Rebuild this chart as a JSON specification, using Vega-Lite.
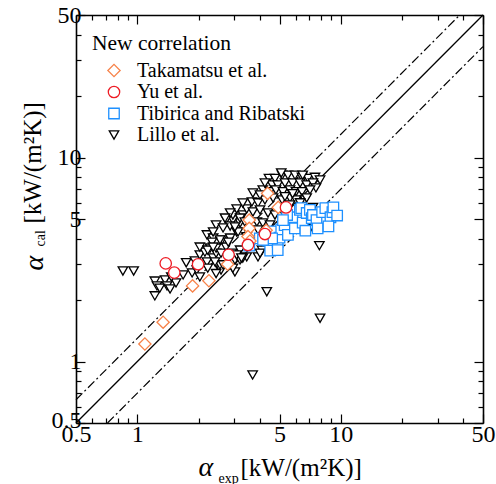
{
  "$schema": "https://vega.github.io/schema/vega-lite/v6.json",
  "width": 407,
  "height": 408,
  "autosize": {"type": "none"},
  "padding": {"left": 76, "top": 15, "right": 13, "bottom": 61},
  "background": "white",
  "config": {
    "view": {"stroke": null},
    "font": "Liberation Serif",
    "axis": {
      "domainColor": "black", "domainWidth": 1.6, "tickColor": "black", "tickWidth": 1.2,
      "labelFont": "Liberation Serif", "labelFontSize": 24, "labelColor": "black",
      "titleFont": "Liberation Serif", "titleColor": "black", "titleFontWeight": "normal",
      "grid": false, "labelOverlap": false, "labelFlush": false
    },
    "legend": {
      "titleFont": "Liberation Serif", "titleFontSize": 21.5, "titleFontWeight": "normal", "titleColor": "black",
      "labelFont": "Liberation Serif", "labelFontSize": 20, "labelColor": "black", "labelLimit": 400
    }
  },
  "datasets": {
    "eq": [{"exp": 0.5, "cal": 0.5}, {"exp": 50, "cal": 50}],
    "band": [
      {"id": "up", "exp": 0.5, "cal": 0.65}, {"id": "up", "exp": 38.46, "cal": 50},
      {"id": "lo", "exp": 0.714, "cal": 0.5}, {"id": "lo", "exp": 50, "cal": 35}
    ],
    "pts": [
      {"src": "Lillo et al.", "exp": 0.85, "cal": 2.78}, {"src": "Lillo et al.", "exp": 0.96, "cal": 2.78},
      {"src": "Lillo et al.", "exp": 1.22, "cal": 2.48}, {"src": "Lillo et al.", "exp": 1.25, "cal": 2.35},
      {"src": "Lillo et al.", "exp": 1.22, "cal": 2.1}, {"src": "Lillo et al.", "exp": 1.37, "cal": 2.51},
      {"src": "Lillo et al.", "exp": 1.4, "cal": 2.35}, {"src": "Lillo et al.", "exp": 1.45, "cal": 2.27},
      {"src": "Lillo et al.", "exp": 1.55, "cal": 2.43}, {"src": "Lillo et al.", "exp": 1.68, "cal": 2.66},
      {"src": "Lillo et al.", "exp": 1.74, "cal": 3.05}, {"src": "Lillo et al.", "exp": 1.86, "cal": 2.72},
      {"src": "Lillo et al.", "exp": 1.92, "cal": 3.11}, {"src": "Lillo et al.", "exp": 1.96, "cal": 2.81},
      {"src": "Lillo et al.", "exp": 2.03, "cal": 3.33}, {"src": "Lillo et al.", "exp": 2.03, "cal": 2.6},
      {"src": "Lillo et al.", "exp": 2.15, "cal": 3.44}, {"src": "Lillo et al.", "exp": 2.2, "cal": 3.08},
      {"src": "Lillo et al.", "exp": 2.22, "cal": 2.87}, {"src": "Lillo et al.", "exp": 2.28, "cal": 3.6},
      {"src": "Lillo et al.", "exp": 2.36, "cal": 3.22}, {"src": "Lillo et al.", "exp": 2.44, "cal": 3.4},
      {"src": "Lillo et al.", "exp": 2.47, "cal": 2.98}, {"src": "Lillo et al.", "exp": 2.58, "cal": 2.81},
      {"src": "Lillo et al.", "exp": 2.73, "cal": 3.64}, {"src": "Lillo et al.", "exp": 2.61, "cal": 3.95},
      {"src": "Lillo et al.", "exp": 2.86, "cal": 4.03}, {"src": "Lillo et al.", "exp": 2.92, "cal": 3.4},
      {"src": "Lillo et al.", "exp": 3.02, "cal": 3.15}, {"src": "Lillo et al.", "exp": 3.08, "cal": 4.32},
      {"src": "Lillo et al.", "exp": 3.2, "cal": 4.78}, {"src": "Lillo et al.", "exp": 2.95, "cal": 4.94},
      {"src": "Lillo et al.", "exp": 2.73, "cal": 4.94}, {"src": "Lillo et al.", "exp": 2.86, "cal": 4.62},
      {"src": "Lillo et al.", "exp": 3.3, "cal": 5.23}, {"src": "Lillo et al.", "exp": 3.45, "cal": 5.6},
      {"src": "Lillo et al.", "exp": 3.45, "cal": 4.09}, {"src": "Lillo et al.", "exp": 3.02, "cal": 2.75},
      {"src": "Lillo et al.", "exp": 2.55, "cal": 2.98}, {"src": "Lillo et al.", "exp": 2.95, "cal": 2.87},
      {"src": "Lillo et al.", "exp": 3.2, "cal": 3.15}, {"src": "Lillo et al.", "exp": 4.44, "cal": 7.9},
      {"src": "Lillo et al.", "exp": 4.75, "cal": 7.9}, {"src": "Lillo et al.", "exp": 5.15, "cal": 8.2},
      {"src": "Lillo et al.", "exp": 5.5, "cal": 8.2}, {"src": "Lillo et al.", "exp": 5.96, "cal": 8.2},
      {"src": "Lillo et al.", "exp": 6.45, "cal": 8.0}, {"src": "Lillo et al.", "exp": 6.9, "cal": 7.9},
      {"src": "Lillo et al.", "exp": 7.47, "cal": 8.0}, {"src": "Lillo et al.", "exp": 7.91, "cal": 7.76},
      {"src": "Lillo et al.", "exp": 4.6, "cal": 7.34}, {"src": "Lillo et al.", "exp": 4.9, "cal": 7.34},
      {"src": "Lillo et al.", "exp": 5.32, "cal": 7.5}, {"src": "Lillo et al.", "exp": 5.8, "cal": 7.5},
      {"src": "Lillo et al.", "exp": 6.31, "cal": 7.5}, {"src": "Lillo et al.", "exp": 6.8, "cal": 7.34},
      {"src": "Lillo et al.", "exp": 7.3, "cal": 7.5}, {"src": "Lillo et al.", "exp": 7.55, "cal": 7.1},
      {"src": "Lillo et al.", "exp": 4.14, "cal": 6.94}, {"src": "Lillo et al.", "exp": 4.49, "cal": 6.8},
      {"src": "Lillo et al.", "exp": 4.8, "cal": 6.94}, {"src": "Lillo et al.", "exp": 5.2, "cal": 6.8},
      {"src": "Lillo et al.", "exp": 5.63, "cal": 6.94}, {"src": "Lillo et al.", "exp": 6.03, "cal": 6.8},
      {"src": "Lillo et al.", "exp": 6.45, "cal": 6.8}, {"src": "Lillo et al.", "exp": 7.06, "cal": 6.94},
      {"src": "Lillo et al.", "exp": 3.66, "cal": 6.06}, {"src": "Lillo et al.", "exp": 3.92, "cal": 6.0},
      {"src": "Lillo et al.", "exp": 4.24, "cal": 6.2}, {"src": "Lillo et al.", "exp": 4.65, "cal": 6.34},
      {"src": "Lillo et al.", "exp": 5.15, "cal": 6.2}, {"src": "Lillo et al.", "exp": 5.63, "cal": 6.34},
      {"src": "Lillo et al.", "exp": 6.03, "cal": 6.2}, {"src": "Lillo et al.", "exp": 6.67, "cal": 6.2},
      {"src": "Lillo et al.", "exp": 3.7, "cal": 5.41}, {"src": "Lillo et al.", "exp": 4.01, "cal": 5.54},
      {"src": "Lillo et al.", "exp": 4.39, "cal": 5.35}, {"src": "Lillo et al.", "exp": 4.75, "cal": 5.23},
      {"src": "Lillo et al.", "exp": 5.2, "cal": 5.41}, {"src": "Lillo et al.", "exp": 2.95, "cal": 5.23},
      {"src": "Lillo et al.", "exp": 3.2, "cal": 5.05}, {"src": "Lillo et al.", "exp": 3.38, "cal": 4.83},
      {"src": "Lillo et al.", "exp": 3.87, "cal": 4.83}, {"src": "Lillo et al.", "exp": 4.14, "cal": 4.78},
      {"src": "Lillo et al.", "exp": 4.49, "cal": 4.67}, {"src": "Lillo et al.", "exp": 2.44, "cal": 4.67},
      {"src": "Lillo et al.", "exp": 2.64, "cal": 4.52}, {"src": "Lillo et al.", "exp": 3.13, "cal": 4.32},
      {"src": "Lillo et al.", "exp": 3.92, "cal": 4.42}, {"src": "Lillo et al.", "exp": 2.2, "cal": 4.18},
      {"src": "Lillo et al.", "exp": 2.36, "cal": 4.03}, {"src": "Lillo et al.", "exp": 2.55, "cal": 3.95},
      {"src": "Lillo et al.", "exp": 2.8, "cal": 3.85}, {"src": "Lillo et al.", "exp": 2.03, "cal": 3.64},
      {"src": "Lillo et al.", "exp": 2.22, "cal": 3.52}, {"src": "Lillo et al.", "exp": 2.44, "cal": 3.6},
      {"src": "Lillo et al.", "exp": 3.2, "cal": 3.52}, {"src": "Lillo et al.", "exp": 3.45, "cal": 3.26},
      {"src": "Lillo et al.", "exp": 3.92, "cal": 3.26}, {"src": "Lillo et al.", "exp": 4.1, "cal": 3.52},
      {"src": "Lillo et al.", "exp": 2.41, "cal": 3.08}, {"src": "Lillo et al.", "exp": 3.3, "cal": 3.22},
      {"src": "Lillo et al.", "exp": 3.7, "cal": 6.7}, {"src": "Lillo et al.", "exp": 4.01, "cal": 6.56},
      {"src": "Lillo et al.", "exp": 3.3, "cal": 5.99}, {"src": "Lillo et al.", "exp": 3.08, "cal": 5.6},
      {"src": "Lillo et al.", "exp": 2.86, "cal": 5.35}, {"src": "Lillo et al.", "exp": 2.7, "cal": 5.05},
      {"src": "Lillo et al.", "exp": 2.36, "cal": 4.32}, {"src": "Lillo et al.", "exp": 2.33, "cal": 3.85},
      {"src": "Lillo et al.", "exp": 3.02, "cal": 4.57}, {"src": "Lillo et al.", "exp": 4.24, "cal": 7.5},
      {"src": "Lillo et al.", "exp": 5.1, "cal": 8.4}, {"src": "Lillo et al.", "exp": 6.5, "cal": 8.2},
      {"src": "Lillo et al.", "exp": 5.8, "cal": 6.65}, {"src": "Lillo et al.", "exp": 5.32, "cal": 6.43},
      {"src": "Lillo et al.", "exp": 6.8, "cal": 6.34}, {"src": "Lillo et al.", "exp": 5.63, "cal": 5.86},
      {"src": "Lillo et al.", "exp": 6.31, "cal": 6.0}, {"src": "Lillo et al.", "exp": 7.3, "cal": 5.7},
      {"src": "Lillo et al.", "exp": 7.3, "cal": 4.5}, {"src": "Lillo et al.", "exp": 7.85, "cal": 3.7},
      {"src": "Lillo et al.", "exp": 4.33, "cal": 2.2}, {"src": "Lillo et al.", "exp": 7.91, "cal": 1.63},
      {"src": "Lillo et al.", "exp": 3.69, "cal": 0.86}, {"src": "Lillo et al.", "exp": 2.36, "cal": 3.64},
      {"src": "Lillo et al.", "exp": 2.58, "cal": 3.4}, {"src": "Lillo et al.", "exp": 3.08, "cal": 3.33},
      {"src": "Lillo et al.", "exp": 3.25, "cal": 3.22}, {"src": "Lillo et al.", "exp": 4.01, "cal": 3.4},
      {"src": "Lillo et al.", "exp": 2.64, "cal": 2.98}, {"src": "Lillo et al.", "exp": 2.44, "cal": 2.7},
      {"src": "Lillo et al.", "exp": 1.29, "cal": 2.29}, {"src": "Lillo et al.", "exp": 1.47, "cal": 2.6},
      {"src": "Tibirica and Ribatski", "exp": 3.55, "cal": 3.7}, {"src": "Tibirica and Ribatski", "exp": 4.0, "cal": 4.02},
      {"src": "Tibirica and Ribatski", "exp": 4.4, "cal": 3.92}, {"src": "Tibirica and Ribatski", "exp": 4.5, "cal": 3.5},
      {"src": "Tibirica and Ribatski", "exp": 4.7, "cal": 4.35}, {"src": "Tibirica and Ribatski", "exp": 4.9, "cal": 3.85},
      {"src": "Tibirica and Ribatski", "exp": 5.0, "cal": 4.05}, {"src": "Tibirica and Ribatski", "exp": 5.1, "cal": 4.45},
      {"src": "Tibirica and Ribatski", "exp": 5.3, "cal": 4.67}, {"src": "Tibirica and Ribatski", "exp": 5.5, "cal": 4.18},
      {"src": "Tibirica and Ribatski", "exp": 5.6, "cal": 4.94}, {"src": "Tibirica and Ribatski", "exp": 5.8, "cal": 5.1},
      {"src": "Tibirica and Ribatski", "exp": 5.95, "cal": 4.5}, {"src": "Tibirica and Ribatski", "exp": 6.3, "cal": 5.54},
      {"src": "Tibirica and Ribatski", "exp": 6.4, "cal": 5.65}, {"src": "Tibirica and Ribatski", "exp": 6.5, "cal": 4.8},
      {"src": "Tibirica and Ribatski", "exp": 6.7, "cal": 4.38}, {"src": "Tibirica and Ribatski", "exp": 6.8, "cal": 5.35},
      {"src": "Tibirica and Ribatski", "exp": 7.05, "cal": 5.54}, {"src": "Tibirica and Ribatski", "exp": 7.2, "cal": 5.05},
      {"src": "Tibirica and Ribatski", "exp": 7.3, "cal": 5.23}, {"src": "Tibirica and Ribatski", "exp": 7.6, "cal": 4.94},
      {"src": "Tibirica and Ribatski", "exp": 7.7, "cal": 4.5}, {"src": "Tibirica and Ribatski", "exp": 8.1, "cal": 5.4},
      {"src": "Tibirica and Ribatski", "exp": 8.4, "cal": 5.65}, {"src": "Tibirica and Ribatski", "exp": 8.9, "cal": 5.1},
      {"src": "Tibirica and Ribatski", "exp": 8.7, "cal": 4.6}, {"src": "Tibirica and Ribatski", "exp": 9.1, "cal": 5.4},
      {"src": "Tibirica and Ribatski", "exp": 9.2, "cal": 5.7}, {"src": "Tibirica and Ribatski", "exp": 9.6, "cal": 5.2},
      {"src": "Tibirica and Ribatski", "exp": 5.45, "cal": 5.23}, {"src": "Tibirica and Ribatski", "exp": 5.2, "cal": 4.94},
      {"src": "Tibirica and Ribatski", "exp": 4.6, "cal": 4.02}, {"src": "Tibirica and Ribatski", "exp": 4.15, "cal": 3.95},
      {"src": "Tibirica and Ribatski", "exp": 4.9, "cal": 3.52},
      {"src": "Takamatsu et al.", "exp": 1.09, "cal": 1.22}, {"src": "Takamatsu et al.", "exp": 1.34, "cal": 1.56},
      {"src": "Takamatsu et al.", "exp": 1.87, "cal": 2.35}, {"src": "Takamatsu et al.", "exp": 2.25, "cal": 2.49},
      {"src": "Takamatsu et al.", "exp": 2.78, "cal": 3.0}, {"src": "Takamatsu et al.", "exp": 4.37, "cal": 6.68},
      {"src": "Takamatsu et al.", "exp": 4.93, "cal": 5.7}, {"src": "Takamatsu et al.", "exp": 3.55, "cal": 4.94},
      {"src": "Takamatsu et al.", "exp": 3.55, "cal": 4.5}, {"src": "Takamatsu et al.", "exp": 3.5, "cal": 4.1},
      {"src": "Takamatsu et al.", "exp": 3.58, "cal": 3.9}, {"src": "Takamatsu et al.", "exp": 4.3, "cal": 4.4},
      {"src": "Yu et al.", "exp": 1.38, "cal": 3.03}, {"src": "Yu et al.", "exp": 1.52, "cal": 2.73},
      {"src": "Yu et al.", "exp": 1.99, "cal": 3.0}, {"src": "Yu et al.", "exp": 2.81, "cal": 3.34},
      {"src": "Yu et al.", "exp": 4.24, "cal": 4.22}, {"src": "Yu et al.", "exp": 3.5, "cal": 3.73},
      {"src": "Yu et al.", "exp": 5.38, "cal": 5.7}
    ]
  },
  "layer": [
    {
      "data": {"name": "eq"},
      "mark": {"type": "line", "color": "black", "strokeWidth": 1.3},
      "encoding": {
        "x": {"field": "exp", "type": "quantitative", "scale": {"type": "log", "domain": [0.5, 50]},
          "axis": {"orient": "top", "values": [0.5,0.6,0.7,0.8,0.9,1,2,3,4,5,6,7,8,9,10,20,30,40,50],
            "labels": false,
            "tickSize": {"condition": {"test": "indexof([0.5,1,5,10,50], datum.value) >= 0", "value": -9}, "value": -5},
            "title": "exp", "titleFontSize": 14, "titleX": 142, "titleY": 467, "titleAlign": "left", "titleBaseline": "alphabetic", "titleAngle": 0}},
        "y": {"field": "cal", "type": "quantitative", "scale": {"type": "log", "domain": [0.5, 50]},
          "axis": {"orient": "right", "values": [0.5,0.6,0.7,0.8,0.9,1,2,3,4,5,6,7,8,9,10,20,30,40,50],
            "labels": false,
            "tickSize": {"condition": {"test": "indexof([0.5,1,5,10,50], datum.value) >= 0", "value": -9}, "value": -5},
            "title": "cal", "titleFontSize": 14, "titleX": -439, "titleY": 231, "titleAlign": "left", "titleBaseline": "alphabetic", "titleAngle": -90}}
      }
    },
    {
      "data": {"name": "band"},
      "mark": {"type": "line", "color": "black", "strokeWidth": 1.2, "strokeDash": [9, 3, 2, 3]},
      "encoding": {
        "detail": {"field": "id"},
        "x": {"field": "exp", "type": "quantitative", "scale": {"type": "log", "domain": [0.5, 50]},
          "axis": {"orient": "bottom", "domain": false, "ticks": false, "labels": false,
            "title": "[kW/(m²K)]", "titleFontSize": 25, "titleX": 164, "titleY": 52, "titleAlign": "left", "titleBaseline": "alphabetic", "titleAngle": 0}},
        "y": {"field": "cal", "type": "quantitative", "scale": {"type": "log", "domain": [0.5, 50]},
          "axis": {"orient": "left", "domain": false, "ticks": false, "labels": false,
            "title": "[kW/(m²K)]", "titleFontSize": 25, "titleX": -36, "titleY": 208, "titleAlign": "left", "titleBaseline": "alphabetic", "titleAngle": -90}}
      }
    },
    {
      "data": {"name": "pts"},
      "mark": {"type": "point", "filled": true, "fill": "white", "strokeWidth": 1.3, "opacity": 1},
      "encoding": {
        "x": {"field": "exp", "type": "quantitative", "scale": {"type": "log", "domain": [0.5, 50]},
          "axis": {"orient": "bottom", "values": [0.5,0.6,0.7,0.8,0.9,1,2,3,4,5,6,7,8,9,10,20,30,40,50],
            "labelExpr": "indexof([0.5,1,5,10,50], datum.value) >= 0 ? format(datum.value, '~g') : ''",
            "labelPadding": 8,
            "tickSize": {"condition": {"test": "indexof([0.5,1,5,10,50], datum.value) >= 0", "value": -9}, "value": -5},
            "title": "α", "titleFontStyle": "italic", "titleFontSize": 28, "titleX": 122, "titleY": 52, "titleAlign": "left", "titleBaseline": "alphabetic", "titleAngle": 0}},
        "y": {"field": "cal", "type": "quantitative", "scale": {"type": "log", "domain": [0.5, 50]},
          "axis": {"orient": "left", "values": [0.5,0.6,0.7,0.8,0.9,1,2,3,4,5,6,7,8,9,10,20,30,40,50],
            "labelExpr": "indexof([0.5,1,5,10,50], datum.value) >= 0 ? format(datum.value, '~g') : ''",
            "labelPadding": 4,
            "labelOffset": {"condition": {"test": "datum.value == 0.5", "value": -3}, "value": 0},
            "tickSize": {"condition": {"test": "indexof([0.5,1,5,10,50], datum.value) >= 0", "value": -9}, "value": -5},
            "title": "α", "titleFontStyle": "italic", "titleFontSize": 28, "titleX": -34, "titleY": 255, "titleAlign": "left", "titleBaseline": "alphabetic", "titleAngle": -90}},
        "shape": {"field": "src", "type": "nominal",
          "scale": {"domain": ["Takamatsu et al.", "Yu et al.", "Tibirica and Ribatski", "Lillo et al."], "range": ["diamond", "circle", "square", "triangle-down"]},
          "legend": {"title": "New correlation", "orient": "none", "legendX": 16, "legendY": 18, "titlePadding": 6, "symbolOffset": 12, "labelOffset": 13, "rowPadding": 1.5, "symbolFillColor": "white", "symbolStrokeWidth": 1.3}},
        "stroke": {"field": "src", "type": "nominal",
          "scale": {"domain": ["Takamatsu et al.", "Yu et al.", "Tibirica and Ribatski", "Lillo et al."], "range": ["#f7834a", "#ee1c25", "#1e90ff", "black"]},
          "legend": {"title": "New correlation", "orient": "none", "legendX": 16, "legendY": 18, "titlePadding": 6, "symbolOffset": 12, "labelOffset": 13, "rowPadding": 1.5, "symbolFillColor": "white", "symbolStrokeWidth": 1.3}},
        "size": {"field": "src", "type": "nominal",
          "scale": {"domain": ["Takamatsu et al.", "Yu et al.", "Tibirica and Ribatski", "Lillo et al."], "range": [150, 90, 105, 135]},
          "legend": {"title": "New correlation", "orient": "none", "legendX": 16, "legendY": 18, "titlePadding": 6, "symbolOffset": 12, "labelOffset": 13, "rowPadding": 1.5, "symbolFillColor": "white", "symbolStrokeWidth": 1.3}}
      }
    }
  ],
  "resolve": {"axis": {"x": "independent", "y": "independent"}}
}
